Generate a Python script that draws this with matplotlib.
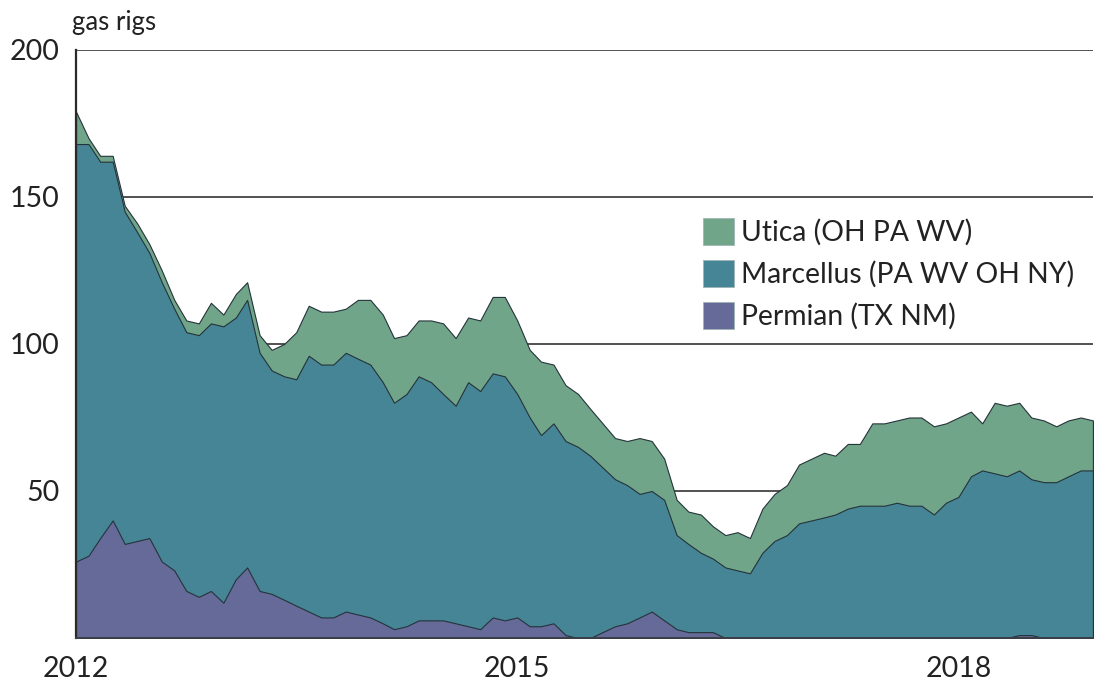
import datetime as dt

import matplotlib.pyplot as plt
import pandas as pd
from matplotlib.patches import Patch

plt.rcParams["font.family"] = ["Lato", "DejaVu Sans"]

# monthly readings, Jan 2012 .. Dec 2018 (gas rigs)
months = pd.date_range("2012-01-01", periods=84, freq="MS")

permian = [
    26, 28, 34, 40, 32, 33, 34, 26, 23, 16, 14, 16, 12, 20, 24, 16, 15, 13, 11, 9, 7,
    7, 9, 8, 7, 5, 3, 4, 6, 6, 6, 5, 4, 3, 7, 6, 7, 4, 4, 5, 1, 0, 0, 2,
    4, 5, 7, 9, 6, 3, 2, 2, 2, 0, 0, 0, 0, 0, 0, 0, 0, 0, 0, 0, 0, 0,
    0, 0, 0, 0, 0, 0, 0, 0, 0, 0, 0, 1, 1, 0, 0, 0, 0, 0,
]
marcellus = [
    142, 140, 128, 122, 113, 105, 97, 95, 89, 88, 89, 91, 94, 89, 91, 81, 76, 76, 77, 87, 86,
    86, 88, 87, 86, 82, 77, 79, 83, 81, 77, 74, 83, 81, 83, 83, 76, 71, 65, 68, 66, 65, 62, 56,
    50, 47, 42, 41, 41, 32, 30, 27, 25, 24, 23, 22, 29, 33, 35, 39, 40, 41, 42, 44, 45, 45,
    45, 46, 45, 45, 42, 46, 48, 55, 57, 56, 55, 56, 53, 53, 53, 55, 57, 57,
]
utica = [
    11, 2, 2, 2, 2, 3, 3, 4, 3, 4, 4, 7, 4, 8, 6, 6, 7, 11, 16, 17, 18,
    18, 15, 20, 22, 23, 22, 20, 19, 21, 24, 23, 22, 24, 26, 27, 25, 23, 25, 20, 19, 18, 16, 15,
    14, 15, 19, 17, 14, 12, 11, 13, 11, 11, 13, 12, 15, 16, 17, 20, 21, 22, 20, 22, 21, 28,
    28, 28, 30, 30, 30, 27, 27, 22, 16, 24, 24, 23, 21, 21, 19, 19, 18, 17,
]

labels = ["Utica (OH PA WV)", "Marcellus (PA WV OH NY)", "Permian (TX NM)"]
colors = ["#70a58a", "#468596", "#656a98"]
edge = "#25333a"

fig = plt.figure(figsize=(10.94, 6.87), dpi=100)
ax = fig.add_axes([0.0695, 0.0713, 0.9295, 0.8560])

# stacked areas, bottom to top
layer1 = list(permian)
layer2 = [p + m for p, m in zip(permian, marcellus)]
layer3 = [s + u for s, u in zip(layer2, utica)]
ax.fill_between(months, 0, layer3, color=colors[0], edgecolor=edge, linewidth=0.8, zorder=2)
ax.fill_between(months, 0, layer2, color=colors[1], edgecolor=edge, linewidth=0.8, zorder=3)
ax.fill_between(months, 0, layer1, color=colors[2], edgecolor=edge, linewidth=0.8, zorder=4)

ax.set_xlim(months[0], months[-1])
ax.set_ylim(0, 200)
ax.set_yticks([50, 100, 150, 200])
ax.set_xticks([dt.datetime(2012, 1, 1), dt.datetime(2015, 1, 1), dt.datetime(2018, 1, 1)])
ax.set_xticklabels(["2012", "2015", "2018"])
ax.tick_params(length=0, labelsize=20.5, colors="#222222", pad=12)
ax.tick_params(axis="x", pad=13)
for y in [50, 100, 150, 200]:
    ax.axhline(y, color="#222222", linewidth=1.1, zorder=1)

for side in ["top", "right"]:
    ax.spines[side].set_visible(False)
ax.spines["left"].set_color("#2a2a2a")
ax.spines["left"].set_linewidth(1.6)
ax.spines["left"].set_zorder(6)
ax.spines["bottom"].set_color("#3a3f48")
ax.spines["bottom"].set_linewidth(1.4)
ax.spines["bottom"].set_zorder(6)

fig.text(0.066, 0.967, "gas rigs", fontsize=18.5, color="#222222", va="center", ha="left")

handles = [Patch(facecolor=c, edgecolor="#9fb5b5", linewidth=0.6) for c in colors]
ax.legend(
    handles, labels, loc="upper left", bbox_to_anchor=(0.6165, 0.715), frameon=False,
    fontsize=20.3, handlelength=1.1, handleheight=1.1, handletextpad=0.25,
    labelspacing=0.5, borderaxespad=0, borderpad=0, labelcolor="#222222",
)

fig.savefig("out.png", dpi=100)
